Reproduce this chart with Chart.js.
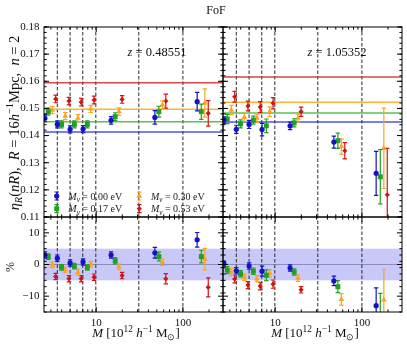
<!DOCTYPE html>
<html>
<head>
<meta charset="utf-8">
<title>FoF eta_R</title>
<script src="https://cdn.jsdelivr.net/npm/chart.js@4.4.1/dist/chart.umd.min.js"></script>
<style>
  body { margin: 0; background: #fff; }
  #figure { position: relative; width: 407px; height: 350px; }
  #figure canvas { position: absolute; left: 0; top: 0; }
</style>
</head>
<body>
<div id="figure">
  <canvas id="etaLow" width="407" height="350"></canvas>
  <canvas id="etaHigh" width="407" height="350"></canvas>
  <canvas id="pctLow" width="407" height="350"></canvas>
  <canvas id="pctHigh" width="407" height="350"></canvas>
</div>
<script>
// ---- values ----
const neutrinoMasses = ['0.00', '0.17', '0.30', '0.53'];   // M_nu [eV]
const redshifts = ['0.48551', '1.05352'];

// halo mass of every point [1e12 h^-1 Msun], one list per model
const mass000 = [2.56, 3.56, 5.0, 7.05, 14.85, 47.5, 146];
const mass017 = [2.8, 3.98, 5.6, 7.9, 16.55, 52.8, 163];
const mass030 = [3.12, 4.4, 6.15, 8.65, 18.3, 58, 179];
const mass053 = [3.41, 4.85, 6.72, 9.45, 19.9, 63.5, 196];

// eta_R at z = 0.48551
const etaLow000 = [0.1464, 0.1441, 0.1423, 0.1424, 0.1456, 0.1467, 0.1525];
const etaLow017 = [0.1488, 0.1441, 0.1441, 0.1441, 0.1470, 0.1488, 0.1488];
const etaLow030 = [0.1494, 0.1472, 0.1464, 0.1498, 0.1488, 0.1513, 0.1520];
const etaLow053 = [0.1535, 0.1527, 0.1523, 0.1531, 0.1533, 0.1527, 0.1482];
const errLow000 = [0.0013, 0.0013, 0.0013, 0.0013, 0.0014, 0.0025, 0.0034];
const errLow017 = [0.0013, 0.0013, 0.0013, 0.0013, 0.0014, 0.0020, 0.0028];
const errLow030 = [0.0013, 0.0013, 0.0013, 0.0013, 0.0014, 0.0015, 0.0052];
const errLow053 = [0.0014, 0.0014, 0.0014, 0.0014, 0.0014, 0.0026, 0.0047];
const levelLow = [0.1413, 0.1451, 0.1497, 0.1595];

// eta_R at z = 1.05352
const etaHigh000 = [0.1457, 0.1423, 0.1441, 0.1422, 0.1436, 0.1376, 0.1261];
const etaHigh017 = [0.1461, 0.1443, 0.1457, 0.1436, 0.1447, 0.1381, 0.1248];
const etaHigh030 = [0.1494, 0.1467, 0.1464, 0.1488, 0.1464, 0.1360, 0.1353];
const etaHigh053 = [0.1543, 0.1509, 0.1505, 0.1519, 0.1488, 0.1344, 0.1182];
const errHigh000 = [0.0012, 0.0015, 0.0015, 0.0023, 0.0014, 0.0022, 0.0081];
const errHigh017 = [0.0017, 0.0015, 0.0015, 0.0025, 0.0015, 0.0028, 0.0100];
const errHigh030 = [0.0017, 0.0015, 0.0015, 0.0018, 0.0015, 0.0028, 0.0148];
const errHigh053 = [0.0020, 0.0018, 0.0020, 0.0021, 0.0017, 0.0030, 0.0171];
const levelHigh = [0.1450, 0.1483, 0.1523, 0.1616];

// relative difference [%]
const pctLow000 = [3.0, 2.0, 0.5, 0.8, 3.0, 3.7, 7.8];
const pctLow017 = [2.5, -0.9, -0.5, -0.9, 1.2, 2.5, 2.5];
const pctLow030 = [-0.1, -1.7, -2.4, 0.1, -0.7, 0.7, 1.7];
const pctLow053 = [-3.8, -4.5, -4.5, -4.0, -3.5, -4.5, -7.2];
const errPctLow000 = [1.0, 1.0, 1.0, 1.0, 1.0, 1.7, 2.3];
const errPctLow017 = [0.9, 0.9, 0.9, 0.9, 1.0, 1.4, 2.0];
const errPctLow030 = [0.9, 0.9, 0.9, 0.9, 0.9, 1.0, 3.4];
const errPctLow053 = [1.0, 1.0, 1.0, 1.0, 1.0, 1.6, 3.0];

const pctHigh000 = [0.3, -2.0, -0.5, -2.1, -1.1, -5.2, -13.0];
const pctHigh017 = [-1.8, -2.9, -2.1, -3.4, -2.4, -7.0, -15.8];
const pctHigh030 = [-2.4, -4.0, -4.5, -2.8, -4.3, -11.0, -11.2];
const pctHigh053 = [-4.6, -6.5, -6.8, -6.2, -8.0, -17.0, -27.0];
const errPctHigh000 = [0.8, 1.0, 1.0, 1.6, 1.0, 1.5, 5.6];
const errPctHigh017 = [1.1, 1.0, 1.0, 1.7, 1.0, 1.9, 6.7];
const errPctHigh030 = [1.1, 1.0, 1.0, 1.2, 1.0, 1.8, 9.7];
const errPctHigh053 = [1.2, 1.1, 1.2, 1.3, 1.0, 1.9, 10.6];
const pctBand = [-5, 5];

// dashed mass cuts
const massCuts = [3.56, 5.0, 7.0, 9.9, 31, 100];

// axes
const X_MIN = 2.5, X_MAX = 290;
const massTicks = [10, 100];
const etaRange = [0.11, 0.18];
const etaTicks = [0.11, 0.12, 0.13, 0.14, 0.15, 0.16, 0.17, 0.18];
const pctRange = [-15, 15];
const pctTicks = [-10, 0, 10];

// ---- styling / layout ----
const FONT = 'Liberation Serif';
const W = 407, H = 350, X_AXIS_H = 20;
const LEFT = 44, MID = 223, RIGHT = 402, TOP = 27, SPLIT = 217, BOTTOM = 312;
const pointColors = ['#1414c4', '#22a022', '#ffa31a', '#d01414'];
const lineColors = ['rgba(40,40,215,0.8)', 'rgba(50,175,50,0.8)', 'rgba(255,165,20,0.85)', 'rgba(200,30,30,0.8)'];
const pointStyles = ['circle', 'rect', 'triangle', 'rectRot'];
const pointRadii = [2.6, 3.5, 3.3, 2.6];
const massLists = [mass000, mass017, mass030, mass053];

function pointSets(values, errors) {
    return values.map((vals, k) => ({
        data: massLists[k].map((m, i) => ({ x: m, y: vals[i] })),
        errors: errors[k],
        pointStyle: pointStyles[k],
        pointRadius: pointRadii[k],
        backgroundColor: pointColors[k],
        borderColor: pointColors[k],
        pointBackgroundColor: pointColors[k],
        pointBorderWidth: 0,
        showLine: false,
        clip: 0,
        order: 0
    }));
}

function levelSets(levels) {
    return levels.map((v, k) => ({
        data: [{ x: X_MIN, y: v }, { x: X_MAX, y: v }],
        showLine: true, pointRadius: 0, borderWidth: 1.5,
        borderColor: lineColors[k], clip: 0, order: 1
    }));
}

function cutSets(range) {
    return massCuts.map(m => ({
        data: [{ x: m, y: range[0] }, { x: m, y: range[1] }],
        showLine: true, pointRadius: 0, borderWidth: 1,
        borderColor: '#2a2a2a', borderDash: [3.5, 2], clip: 0, order: 2
    }));
}

// small rich-text helper: parts are [text, style], style '' | 'i' | 'sub' | 'sup' | 'isub'
function rich(ctx, parts, x, y, size, align) {
    const items = parts.map(([t, s]) => {
        const small = s.includes('sub') || s.includes('sup');
        const font = (s.startsWith('i') ? 'italic ' : '') + (small ? size * 0.72 : size) + 'px "' + FONT + '"';
        ctx.font = font;
        return { t, s, font, w: ctx.measureText(t).width };
    });
    const total = items.reduce((acc, it) => acc + it.w, 0);
    let cx = align === 'center' ? x - total / 2 : x;
    ctx.textAlign = 'left';
    ctx.textBaseline = 'alphabetic';
    for (const it of items) {
        ctx.font = it.font;
        const dy = it.s.includes('sub') ? size * 0.22 : it.s.includes('sup') ? -size * 0.38 : 0;
        ctx.fillText(it.t, cx, y + dy);
        cx += it.w;
    }
}

function minorValues(lo, hi, step) {
    const out = [];
    const n = Math.round((hi - lo) / step);
    for (let i = 0; i <= n; i++) out.push(lo + i * step);
    return out;
}

function logMinors() {
    const out = [];
    [1, 10, 100].forEach(d => {
        for (let k = 2; k <= 9; k++) if (k * d >= X_MIN && k * d <= X_MAX) out.push(k * d);
    });
    return out;
}

function drawMarker(ctx, k, x, y) {
    ctx.fillStyle = pointColors[k];
    ctx.strokeStyle = pointColors[k];
    if (Chart.helpers && Chart.helpers.drawPoint) {
        Chart.helpers.drawPoint(ctx, { pointStyle: pointStyles[k], radius: pointRadii[k], rotation: 0, borderWidth: 0 }, x, y);
    } else {
        ctx.beginPath(); ctx.arc(x, y, pointRadii[k], 0, Math.PI * 2); ctx.fill();
    }
}

// per-panel decorations: band, error bars, frame with inward ticks, texts, legend
function decor(o) {
    return {
        id: 'decor',
        beforeDatasetsDraw(chart) {
            if (!o.band) return;
            const { ctx, chartArea: a, scales: { y } } = chart;
            const y0 = y.getPixelForValue(o.band[0]), y1 = y.getPixelForValue(o.band[1]);
            ctx.save();
            ctx.fillStyle = 'rgba(20,20,230,0.23)';
            ctx.fillRect(a.left, y1, a.right - a.left, y0 - y1);
            const yz = y.getPixelForValue(0);
            ctx.strokeStyle = 'rgba(90,90,140,0.55)';
            ctx.lineWidth = 1;
            ctx.beginPath(); ctx.moveTo(a.left, yz); ctx.lineTo(a.right, yz); ctx.stroke();
            ctx.restore();
        },
        afterDatasetDraw(chart, args) {
            const ds = chart.data.datasets[args.index];
            if (!ds.errors) return;
            const { ctx, chartArea: a, scales: { x, y } } = chart;
            ctx.save();
            ctx.beginPath(); ctx.rect(a.left, a.top, a.right - a.left, a.bottom - a.top); ctx.clip();
            ctx.strokeStyle = ds.borderColor;
            ctx.lineWidth = 1.2;
            ds.data.forEach((p, i) => {
                const px = x.getPixelForValue(p.x);
                const hi = y.getPixelForValue(p.y + ds.errors[i]);
                const lo = y.getPixelForValue(p.y - ds.errors[i]);
                ctx.beginPath();
                ctx.moveTo(px, hi); ctx.lineTo(px, lo);
                ctx.moveTo(px - 2.2, hi); ctx.lineTo(px + 2.2, hi);
                ctx.moveTo(px - 2.2, lo); ctx.lineTo(px + 2.2, lo);
                ctx.stroke();
            });
            ctx.restore();
        },
        afterDraw(chart) {
            const { ctx, chartArea: a, scales: { x, y } } = chart;
            ctx.save();
            ctx.strokeStyle = '#000';
            ctx.lineWidth = 1;
            ctx.strokeRect(a.left, a.top, a.right - a.left, a.bottom - a.top);
            // inward ticks on all four sides
            const xt = massTicks.map(v => [v, 5]).concat(logMinors().map(v => [v, 2.6]));
            xt.forEach(([v, len]) => {
                const px = x.getPixelForValue(v);
                if (px < a.left || px > a.right) return;
                ctx.beginPath();
                ctx.moveTo(px, a.bottom); ctx.lineTo(px, a.bottom - len);
                ctx.moveTo(px, a.top); ctx.lineTo(px, a.top + len);
                ctx.stroke();
            });
            const yt = o.yTicks.map(v => [v, 5]).concat(minorValues(o.yRange[0], o.yRange[1], o.yMinor).map(v => [v, 2.6]));
            yt.forEach(([v, len]) => {
                const py = y.getPixelForValue(v);
                if (py < a.top - 0.1 || py > a.bottom + 0.1) return;
                ctx.beginPath();
                ctx.moveTo(a.left, py); ctx.lineTo(a.left + len, py);
                ctx.moveTo(a.right, py); ctx.lineTo(a.right - len, py);
                ctx.stroke();
            });
            ctx.fillStyle = '#111';
            (o.texts || []).forEach(t => {
                ctx.save();
                ctx.fillStyle = t.color || '#111';
                if (t.rotate) {
                    ctx.translate(t.x, t.y);
                    ctx.rotate(-Math.PI / 2);
                    rich(ctx, t.parts, 0, 0, t.size, 'center');
                } else {
                    rich(ctx, t.parts, t.x, t.y, t.size, t.align);
                }
                ctx.restore();
            });
            if (o.legend) {
                const slots = [[56.7, 196], [56.7, 208.7], [139.3, 196], [139.3, 208.7]];
                neutrinoMasses.forEach((mnu, k) => {
                    const [lx, ly] = slots[k];
                    ctx.strokeStyle = pointColors[k];
                    ctx.lineWidth = 1.2;
                    ctx.beginPath();
                    ctx.moveTo(lx, ly - 4); ctx.lineTo(lx, ly + 4);
                    ctx.moveTo(lx - 2.2, ly - 4); ctx.lineTo(lx + 2.2, ly - 4);
                    ctx.moveTo(lx - 2.2, ly + 4); ctx.lineTo(lx + 2.2, ly + 4);
                    ctx.stroke();
                    drawMarker(ctx, k, lx, ly);
                    ctx.fillStyle = '#222';
                    rich(ctx, [['M', 'i'], ['\u03bd', 'isub'], [' = ' + mnu + ' eV', '']], lx + 11.6, ly + 3.6, 10, 'left');
                });
            }
            ctx.restore();
        }
    };
}

function panel(canvasId, o) {
    const showX = !!o.bottom, showY = !!o.left;
    return new Chart(document.getElementById(canvasId), {
        type: 'scatter',
        data: { datasets: o.datasets },
        options: {
            responsive: false,
            animation: false,
            events: [],
            layout: {
                padding: {
                    left: showY ? 0 : o.box[0],
                    top: o.box[1],
                    right: W - o.box[2],
                    bottom: H - o.box[3] - (showX ? X_AXIS_H : 0)
                }
            },
            plugins: { legend: { display: false }, tooltip: { enabled: false } },
            scales: {
                x: {
                    type: 'logarithmic', min: X_MIN, max: X_MAX, display: showX,
                    grid: { display: false, drawTicks: false }, border: { display: false },
                    ticks: { font: { family: FONT, size: 11 }, color: '#111', padding: 5, maxRotation: 0, autoSkip: false, callback: v => String(v) },
                    afterBuildTicks: s => { s.ticks = massTicks.map(v => ({ value: v })); },
                    afterFit: s => { if (showX) s.height = X_AXIS_H; }
                },
                y: {
                    min: o.yRange[0], max: o.yRange[1], display: showY,
                    grid: { display: false, drawTicks: false }, border: { display: false },
                    ticks: { font: { family: FONT, size: 11 }, color: '#111', padding: 4.5, callback: o.yFormat },
                    afterBuildTicks: s => { s.ticks = o.yTicks.map(v => ({ value: v })); },
                    afterFit: s => { if (showY) s.width = LEFT; }
                }
            }
        },
        plugins: [decor(o)]
    });
}

const etaFormat = v => v.toFixed(2);
const pctFormat = v => (v < 0 ? '\u2212' + (-v) : String(v));
const zParts = z => [['z', 'i'], [' = ' + z, '']];
const massLabel = [['M', 'i'], [' [10', ''], ['12', 'sup'], [' ', ''], ['h', 'i'], ['\u22121', 'sup'], [' M', ''], ['\u2299', 'sub'], [']', '']];
const etaLabel = [['\u03b7', 'i'], ['R', 'isub'], ['(', ''], ['nR', 'i'], ['),  ', ''], ['R', 'i'], [' = 16', ''], ['h', 'i'], ['\u22121', 'sup'], ['Mpc,  ', ''], ['n', 'i'], [' = 2', '']];

panel('etaLow', {
    left: true, box: [LEFT, TOP, MID, SPLIT],
    yRange: etaRange, yTicks: etaTicks, yMinor: 0.002, yFormat: etaFormat,
    datasets: pointSets([etaLow000, etaLow017, etaLow030, etaLow053], [errLow000, errLow017, errLow030, errLow053])
        .concat(levelSets(levelLow), cutSets(etaRange)),
    legend: true,
    texts: [
        { parts: [['FoF', '']], x: 216, y: 13.5, size: 12, align: 'center' },
        { parts: zParts(redshifts[0]), x: 157, y: 56, size: 12.5, align: 'center' },
        { parts: etaLabel, x: 18.5, y: 123, size: 14.5, rotate: true }
    ]
});

panel('etaHigh', {
    box: [MID, TOP, RIGHT, SPLIT],
    yRange: etaRange, yTicks: etaTicks, yMinor: 0.002, yFormat: etaFormat,
    datasets: pointSets([etaHigh000, etaHigh017, etaHigh030, etaHigh053], [errHigh000, errHigh017, errHigh030, errHigh053])
        .concat(levelSets(levelHigh), cutSets(etaRange)),
    texts: [
        { parts: zParts(redshifts[1]), x: 337, y: 56, size: 12.5, align: 'center' }
    ]
});

panel('pctLow', {
    left: true, bottom: true, box: [LEFT, SPLIT, MID, BOTTOM],
    yRange: pctRange, yTicks: pctTicks, yMinor: 2, yFormat: pctFormat, band: pctBand,
    datasets: pointSets([pctLow000, pctLow017, pctLow030, pctLow053], [errPctLow000, errPctLow017, errPctLow030, errPctLow053])
        .concat(cutSets(pctRange)),
    texts: [
        { parts: [['%', '']], x: 13.5, y: 267, size: 12, rotate: true },
        { parts: massLabel, x: 136, y: 337, size: 13, align: 'center' }
    ]
});

panel('pctHigh', {
    bottom: true, box: [MID, SPLIT, RIGHT, BOTTOM],
    yRange: pctRange, yTicks: pctTicks, yMinor: 2, yFormat: pctFormat, band: pctBand,
    datasets: pointSets([pctHigh000, pctHigh017, pctHigh030, pctHigh053], [errPctHigh000, errPctHigh017, errPctHigh030, errPctHigh053])
        .concat(cutSets(pctRange)),
    texts: [
        { parts: massLabel, x: 315, y: 337, size: 13, align: 'center' }
    ]
});
</script>
</body>
</html>
